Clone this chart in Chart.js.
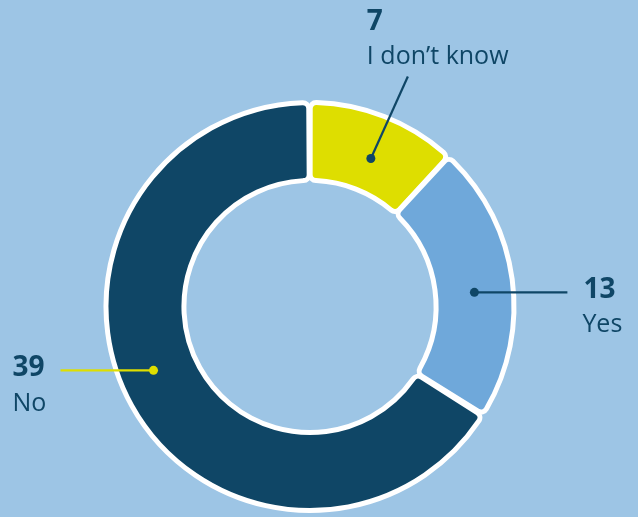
<!DOCTYPE html>
<html>
<head>
<meta charset="utf-8">
<script src="https://cdn.jsdelivr.net/npm/chart.js@4/dist/chart.umd.min.js"></script>
<style>
  html, body { margin: 0; padding: 0; background: #9dc5e5; }
  #wrap { width: 638px; height: 517px; }
</style>
</head>
<body>
<div id="wrap"><canvas id="donut"></canvas></div>
<script>
// data
var categories = ['I don\u2019t know', 'Yes', 'No'];
var answers = [7, 13, 39];
var sliceColors = ['#dede00', '#6fa8da', '#0f4666'];

var textColor = '#0f4666';

// callout per slice: dot angle shift (deg) and radius, then the line's end relative to the dot
var callouts = [
    { shift: 1, r: 160, dx: 37, dy: -82, lineColor: '#0f4666', side: 'top' },
    { shift: 2.7, r: 165, dx: 93, dy: 0, lineColor: '#0f4666', side: 'right' },
    { shift: 6.8, r: 169, dx: -93, dy: 0, lineColor: '#dede00', side: 'left' }
];

var calloutPlugin = {
    id: 'callouts',
    afterDatasetsDraw: function(chart) {
        var ctx = chart.ctx;
        var arcs = chart.getDatasetMeta(0).data;
        arcs.forEach(function(arc, i) {
            var c = callouts[i];
            var mid = (arc.startAngle + arc.endAngle) / 2 + c.shift * Math.PI / 180;
            var px = arc.x + Math.cos(mid) * c.r;
            var py = arc.y + Math.sin(mid) * c.r;
            var ex = px + c.dx, ey = py + c.dy;
            ctx.save();
            ctx.strokeStyle = c.lineColor;
            ctx.fillStyle = c.lineColor;
            ctx.lineWidth = 2.2;
            ctx.beginPath();
            ctx.moveTo(px, py);
            ctx.lineTo(ex, ey);
            ctx.stroke();
            ctx.beginPath();
            ctx.arc(px, py, 4.5, 0, Math.PI * 2);
            ctx.fill();

            ctx.fillStyle = textColor;
            ctx.textAlign = 'left';
            ctx.textBaseline = 'alphabetic';
            var numFont = 'bold 28px "Open Sans"';
            var lblFont = '25px "Open Sans"';
            var nx, ny, lx, ly;
            if (c.side === 'top') {
                nx = ex - 41; ny = ey - 47; lx = ex - 41; ly = ey - 13;
            } else if (c.side === 'right') {
                nx = ex + 16; ny = ey + 6; lx = ex + 15; ly = ey + 40;
            } else {
                nx = ex - 48; ny = ey + 6; lx = ex - 48; ly = ey + 41;
            }
            ctx.font = numFont;
            ctx.fillText(String(answers[i]), nx, ny);
            ctx.font = lblFont;
            ctx.fillText(categories[i], lx, ly);
            ctx.restore();
        });
    }
};

new Chart('donut', {
    type: 'doughnut',
    data: {
        labels: categories,
        datasets: [{
            data: answers,
            backgroundColor: sliceColors,
            borderColor: '#ffffff',
            borderWidth: 5,
            borderRadius: 6,
            spacing: 1
        }]
    },
    options: {
        responsive: true,
        maintainAspectRatio: false,
        animation: false,
        cutout: '61.7%',
        layout: { padding: { top: 100, bottom: 4, left: 0, right: 18 } },
        plugins: {
            legend: { display: false },
            tooltip: { enabled: false }
        }
    },
    plugins: [calloutPlugin]
});
</script>
</body>
</html>
